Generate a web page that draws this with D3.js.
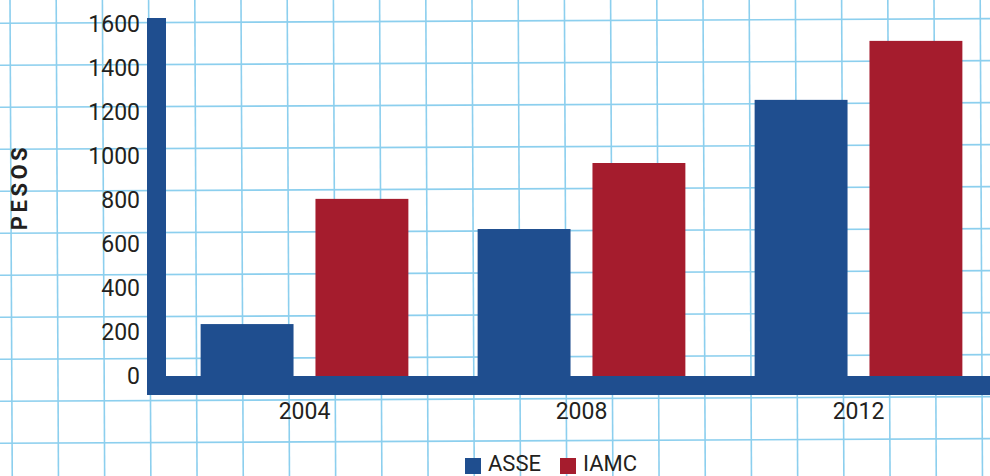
<!DOCTYPE html>
<html>
<head>
<meta charset="utf-8">
<script src="https://cdn.jsdelivr.net/npm/d3@7"></script>
<style>
  html, body { margin: 0; padding: 0; background: #fff; }
  svg { display: block; }
  text { font-family: Roboto, "DejaVu Sans", sans-serif; fill: #231f20; }
</style>
</head>
<body>
<svg id="chart" width="990" height="476"></svg>
<script>
// ---- data ----
const years = ["2004", "2008", "2012"];
const seriesNames = ["ASSE", "IAMC"];
const asse = [236, 668, 1255];
const iamc = [805, 968, 1523];
const yTicks = [0, 200, 400, 600, 800, 1000, 1200, 1400, 1600];
const colors = ["#1f4e8f", "#a51c2d"];

const W = 990, H = 476;
const svg = d3.select("#chart");

// ---- background grid (decoration) ----
const grid = svg.append("g").attr("transform", "rotate(-0.27)");
const gridColor = "#8ccfee";
d3.range(-1, 13).forEach(k => {
  const yy = 23.3 + 42 * k;
  grid.append("line").attr("x1", -20).attr("x2", W + 20).attr("y1", yy).attr("y2", yy)
    .attr("stroke", gridColor).attr("stroke-width", 1.6);
});
d3.range(-1, 23).forEach(k => {
  const xx = 10 + 46.2 * k;
  grid.append("line").attr("x1", xx).attr("x2", xx).attr("y1", -20).attr("y2", H + 20)
    .attr("stroke", gridColor).attr("stroke-width", 1.6);
});

// ---- scales ----
const y = d3.scaleLinear().domain([0, 1627]).range([376, 18]);
const x0 = d3.scaleBand().domain(years).range([166, 997]).paddingInner(0.25).paddingOuter(0.125);
const x1 = d3.scaleBand().domain(seriesNames).range([0, x0.bandwidth()]).padding(0.191).paddingOuter(0);
const color = d3.scaleOrdinal().domain(seriesNames).range(colors);

const rows = years.map((yr, i) => ({ year: yr, values: [
  { key: "ASSE", value: asse[i] },
  { key: "IAMC", value: iamc[i] }
]}));

// ---- bars ----
svg.append("g").selectAll("g").data(rows).join("g")
  .attr("transform", d => `translate(${x0(d.year)},0)`)
  .selectAll("rect").data(d => d.values).join("rect")
  .attr("x", d => x1(d.key))
  .attr("width", x1.bandwidth())
  .attr("y", d => y(d.value))
  .attr("height", d => y(0) - y(d.value))
  .attr("fill", d => color(d.key));

// ---- thick axis bars ----
const axisW = 19;
svg.append("rect").attr("x", 147).attr("width", axisW)
  .attr("y", y.range()[1]).attr("height", y(0) - y.range()[1] + axisW)
  .attr("fill", colors[0]);
svg.append("rect").attr("x", 147).attr("width", W - 147)
  .attr("y", y(0)).attr("height", axisW)
  .attr("fill", colors[0]);

// ---- y axis labels ----
const yAxis = d3.axisLeft(y).tickValues(yTicks).tickSize(0).tickPadding(0).tickFormat(d3.format("d"));
const gy = svg.append("g").attr("transform", "translate(140,-1)").call(yAxis);
gy.select(".domain").remove();
gy.selectAll("text").attr("font-size", 23).attr("font-family", "Roboto, sans-serif")
  .attr("fill", "#231f20").attr("dy", "0.36em");

// ---- x axis labels ----
const xAxis = d3.axisBottom(x0).tickSize(0).tickPadding(0);
const gx = svg.append("g").attr("transform", "translate(0,419)").call(xAxis);
gx.select(".domain").remove();
gx.selectAll("text").attr("font-size", 23).attr("font-family", "Roboto, sans-serif")
  .attr("fill", "#231f20").attr("dy", 0).attr("y", 0);

// ---- y title ----
svg.append("text")
  .attr("transform", "translate(27,187) rotate(-90)")
  .attr("text-anchor", "middle")
  .attr("font-size", 22).attr("font-weight", 700)
  .attr("letter-spacing", 3.5)
  .text("PESOS");

// ---- legend ----
const legendX = [465, 560];
const lg = svg.append("g");
seriesNames.forEach((name, i) => {
  lg.append("rect").attr("x", legendX[i]).attr("y", 458).attr("width", 16).attr("height", 16)
    .attr("fill", colors[i]);
  lg.append("text").attr("x", legendX[i] + 23).attr("y", 471)
    .attr("font-size", 22).text(name);
});
</script>
</body>
</html>
